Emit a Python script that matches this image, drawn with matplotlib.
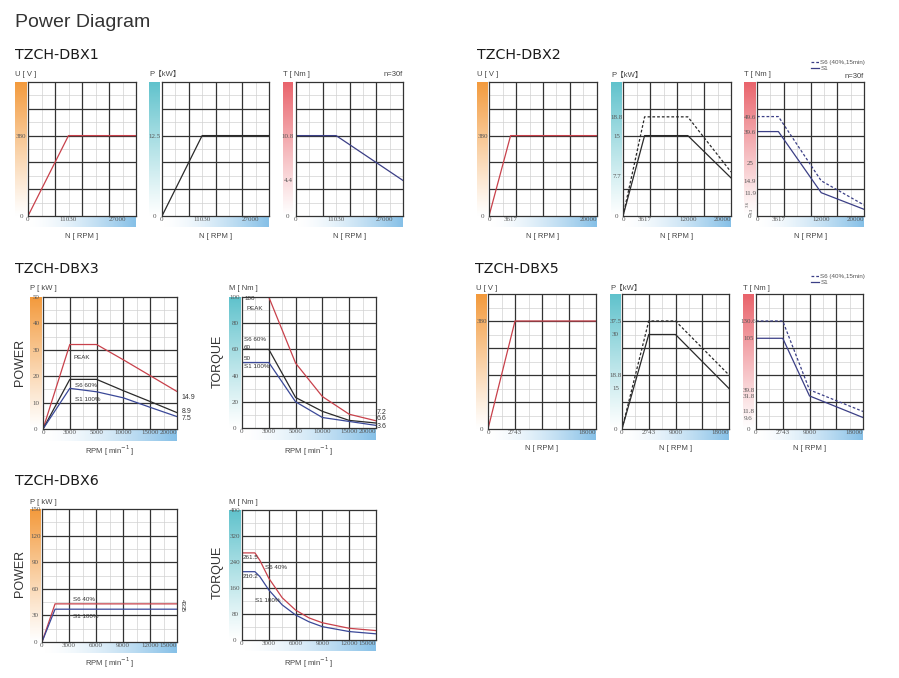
import numpy as np
import matplotlib
matplotlib.use("Agg")
import matplotlib.pyplot as plt
from matplotlib.colors import LinearSegmentedColormap

plt.rcParams['font.family'] = ['Liberation Sans', 'Noto Sans CJK SC', 'DejaVu Sans']

# ---------------- data ----------------
# DBX1
dbx1_rpm = [0, 11030, 33000]
dbx1_u = [0, 380, 380]
dbx1_p = [0, 12.5, 12.5]
dbx1_t = [10.8, 10.8, 4.4]
dbx1_xticks = [0, 11030, 27000]

# DBX2
dbx2_rpm = [0, 3617, 12000, 20000]
dbx2_u = [0, 380, 380, 380]
dbx2_p_s1 = [0, 15, 15, 7.3]
dbx2_p_s6 = [0, 18.8, 18.8, 8.4]
dbx2_t_s1 = [39.6, 39.6, 11.9, 3.3]
dbx2_t_s6 = [49.6, 49.6, 14.9, 3.6]

# DBX3
dbx3_rpm = [0, 3000, 5000, 10000, 15000, 20000]
dbx3_p_peak = [0, 32, 32, 26.2, 20.2, 14.2]
dbx3_p_s6 = [0, 18.8, 18.8, 14.5, 10.4, 6.2]
dbx3_p_s1 = [0, 15.4, 14.1, 11.8, 8.2, 4.7]
dbx3_t_peak = [100, 100, 49.5, 24, 10.5, 5.5]
dbx3_t_s6 = [60, 60, 23.3, 12.7, 5.8, 3.8]
dbx3_t_s1 = [50, 50, 20, 8, 5, 2]

# DBX5
dbx5_rpm = [0, 2743, 9000, 18000]
dbx5_u = [0, 380, 380, 380]
dbx5_p_s1 = [0, 30, 30, 15]
dbx5_p_s6 = [0, 37.5, 37.5, 18.8]
dbx5_t_s1 = [105, 105, 31.8, 9.6]
dbx5_t_s6 = [130.6, 130.6, 39.8, 11.8]

# DBX6
dbx6_p_rpm = [0, 1450, 15000]
dbx6_p_s6 = [0, 43, 43]
dbx6_p_s1 = [0, 37, 37]
dbx6_t_rpm = [0, 1450, 2000, 3000, 4500, 6000, 7500, 9000, 12000, 15000]
dbx6_t_s6 = [268, 268, 245, 190, 130, 92, 68, 53, 36, 29]
dbx6_t_s1 = [210.2, 210.2, 195, 154, 108, 77, 56, 41, 26, 19]

# ---------------- style ----------------
ORANGE = '#f39a3c'
TEAL = '#5fc2cc'
PINK = '#e9636b'
XBLUE = '#86c0e7'
G_MAJ = '#333333'
G_MIN = '#d2d2d2'
C_RED = '#c8414b'
C_BLK = '#2a2a2a'
C_NAVY = '#3b3f86'
C_BLUE = '#3a4898'
DASH = (0, (2.2, 1.6))
TICK_FS = 5

W, H = 899, 678
fig = plt.figure(figsize=(W / 100, H / 100), dpi=100)


def px_box(l, t, r, b):
    return [l / W, 1 - b / H, (r - l) / W, (b - t) / H]


def interp_fn(xp, fp):
    xp = np.asarray(xp, float)
    fp = np.asarray(fp, float)
    lo = (fp[1] - fp[0]) / (xp[1] - xp[0])
    hi = (fp[-1] - fp[-2]) / (xp[-1] - xp[-2])

    def f(v):
        v = np.asarray(v, float)
        out = np.interp(v, xp, fp)
        out = np.where(v < xp[0], fp[0] + (v - xp[0]) * lo, out)
        out = np.where(v > xp[-1], fp[-1] + (v - xp[-1]) * hi, out)
        return out
    return f


def fade(c):
    return LinearSegmentedColormap.from_list('', ['white', c])


def panel(box, bar_color, xmap, ymap, xticks, yticks, ncols, nrows):
    l, t, r, b, bl, br, xb = box
    bax = fig.add_axes(px_box(bl, t, br, b))
    bax.imshow(np.linspace(1, 0, 256)[:, None] ** 1.1, aspect='auto', cmap=fade(bar_color), vmin=0, vmax=1)
    bax.axis('off')
    xax = fig.add_axes(px_box(l, b, r, xb))
    xax.imshow(np.linspace(0, 1, 256)[None, :] ** 1.5, aspect='auto', cmap=fade(XBLUE), vmin=0, vmax=1)
    xax.axis('off')

    ax = fig.add_axes(px_box(l, t, r, b))
    ax.set_xscale('function', functions=(interp_fn(*xmap), interp_fn(xmap[1], xmap[0])))
    ax.set_yscale('function', functions=(interp_fn(*ymap), interp_fn(ymap[1], ymap[0])))
    ax.set_xlim(xmap[0][0], xmap[0][-1])
    ax.set_ylim(ymap[0][0], ymap[0][-1])

    minx = (np.arange(ncols) + 0.5) / ncols
    miny = (np.arange(nrows) + 0.5) / nrows
    ax.vlines(minx, 0, 1, transform=ax.transAxes, colors=G_MIN, lw=0.5, zorder=0.5)
    ax.hlines(miny, 0, 1, transform=ax.transAxes, colors=G_MIN, lw=0.5, zorder=0.5)
    ax.vlines(np.arange(1, ncols) / ncols, 0, 1, transform=ax.transAxes, colors=G_MAJ, lw=0.9, zorder=1)
    ax.hlines(np.arange(1, nrows) / nrows, 0, 1, transform=ax.transAxes, colors=G_MAJ, lw=0.9, zorder=1)
    for s in ax.spines.values():
        s.set_color(G_MAJ)
        s.set_linewidth(0.9)

    ax.set_xticks(xticks)
    ax.set_xticklabels([f'{v:g}' for v in xticks])
    ax.set_yticks(yticks)
    ax.set_yticklabels([f'{v:g}' for v in yticks])
    ypad = (l - (bl + br) / 2) * 0.72
    ax.tick_params(axis='y', length=0, pad=ypad, labelsize=TICK_FS, labelcolor='#555')
    ax.tick_params(axis='x', length=0, pad=1.0, labelsize=TICK_FS, labelcolor='#555')
    for lb in ax.get_yticklabels():
        lb.set_ha('center')
        lb.set_fontfamily('Liberation Serif')
    xl = ax.get_xticklabels()
    for lb in xl:
        lb.set_fontfamily('Liberation Serif')
    if xticks[-1] == xmap[0][-1]:
        xl[-1].set_ha('right')
    return ax


def ftext(x, y, s, **kw):
    kw.setdefault('fontsize', 5.5)
    kw.setdefault('color', '#444')
    kw.setdefault('va', 'center')
    fig.text(x / W, 1 - y / H, s, **kw)


def atext(ax, fx, fy, s, **kw):
    kw.setdefault('fontsize', 4.5)
    kw.setdefault('color', '#333')
    kw.setdefault('va', 'center')
    ax.text(fx, fy, s, transform=ax.transAxes, clip_on=False, **kw)


# ---------------- titles ----------------
ftext(15, 27, 'Power Diagram', fontsize=14, color='#333', va='baseline')
for name, x, y in [('TZCH-DBX1', 15, 59), ('TZCH-DBX2', 477, 59), ('TZCH-DBX3', 15, 273),
                   ('TZCH-DBX5', 475, 273), ('TZCH-DBX6', 15, 485)]:
    ftext(x, y, name, fontsize=10.3, family='DejaVu Sans', color='#1a1a1a', va='baseline')

# ---------------- DBX1 ----------------
x1 = ([0, 11030, 27000, 33000], [0, 0.375, 0.83, 1])
b = (28, 82, 136, 216, 15, 27, 227)
ax = panel(b, ORANGE, x1, ([0, 633.3], [0, 1]), dbx1_xticks, [0, 380], 4, 5)
ax.plot(dbx1_rpm, dbx1_u, color=C_RED, lw=0.9)
b = (162, 82, 269, 216, 149, 160, 227)
ax = panel(b, TEAL, x1, ([0, 20.83], [0, 1]), dbx1_xticks, [0, 12.5], 4, 5)
ax.plot(dbx1_rpm, dbx1_p, color=C_BLK, lw=0.9)
b = (296, 82, 403, 216, 283, 293, 227)
ax = panel(b, PINK, x1, ([0, 4.4, 10.8, 18], [0, 0.265, 0.6, 1]), dbx1_xticks, [0, 4.4, 10.8], 4, 5)
ax.plot(dbx1_rpm, dbx1_t, color=C_NAVY, lw=0.9)
for x, s in [(15, 'U [ V ]'), (149, 'P【kW】'), (283, 'T [ Nm ]')]:
    ftext(x, 74, s)
for c in [82, 215.5, 349.5]:
    ftext(c, 236, 'N [ RPM ]', ha='center')
ftext(403, 74, 'n=30f', ha='right')

# ---------------- DBX2 ----------------
x2 = ([0, 3617, 12000, 20000], [0, 0.2, 0.6, 1])
b = (489, 82, 597, 216, 477, 488, 227)
ax = panel(b, ORANGE, x2, ([0, 633.3], [0, 1]), [0, 3617, 20000], [0, 380], 4, 5)
ax.plot(dbx2_rpm, dbx2_u, color=C_RED, lw=0.9)
b = (623, 82, 731, 216, 611, 622, 227)
ax = panel(b, TEAL, x2, ([0, 7.7, 15, 18.8, 25], [0, 0.30, 0.6, 0.74, 1]),
           [0, 3617, 12000, 20000], [0, 7.7, 15, 18.8], 4, 5)
ax.plot(dbx2_rpm, dbx2_p_s6, color=C_BLK, lw=0.9, ls=DASH)
ax.plot(dbx2_rpm, dbx2_p_s1, color=C_BLK, lw=0.9)
b = (757, 82, 864, 216, 744, 756, 227)
ax = panel(b, PINK, x2, ([0, 3.3, 3.6, 11.9, 14.9, 25, 39.6, 49.6, 71],
                         [0, 0.05, 0.082, 0.174, 0.263, 0.397, 0.63, 0.742, 1]),
           [0, 3617, 12000, 20000], [0, 11.9, 14.9, 25, 39.6, 49.6], 4, 5)
h6, = ax.plot(dbx2_rpm, dbx2_t_s6, color=C_NAVY, lw=0.9, ls=DASH)
h1, = ax.plot(dbx2_rpm, dbx2_t_s1, color=C_NAVY, lw=0.9)
ftext(748, 204, '3.6', fontsize=3.5, rotation=90, ha='center', family='Liberation Serif', color='#555')
ftext(752, 211, '3.3', fontsize=3.5, rotation=90, ha='center', family='Liberation Serif', color='#555')
fig.legend([h6, h1], ['S6 (40%,15min)', 'S1'], loc='upper left', bbox_to_anchor=(811 / W, 1 - 60 / H),
           frameon=False, fontsize=4.5, handlelength=1.3, handletextpad=0.2, labelspacing=0.05,
           borderpad=0, borderaxespad=0, labelcolor='#555')
for x, s in [(477, 'U [ V ]'), (611, 'P【kW】'), (744, 'T [ Nm ]')]:
    ftext(x, 75, s)
for c in [543, 677, 810.5]:
    ftext(c, 236, 'N [ RPM ]', ha='center')
ftext(864, 76, 'n=30f', ha='right')

# ---------------- DBX3 ----------------
x3 = (dbx3_rpm, [0, 0.2, 0.4, 0.6, 0.8, 1])
b = (43, 297, 177, 429, 30, 42, 441)
ax = panel(b, ORANGE, x3, ([0, 50], [0, 1]), dbx3_rpm, [0, 10, 20, 30, 40, 50], 5, 5)
ax.plot(dbx3_rpm, dbx3_p_peak, color=C_RED, lw=0.9)
ax.plot(dbx3_rpm, dbx3_p_s6, color=C_BLK, lw=0.9)
ax.plot(dbx3_rpm, dbx3_p_s1, color=C_BLUE, lw=0.9)
atext(ax, 0.224, 0.545, 'PEAK')
atext(ax, 0.239, 0.333, 'S6 60%')
atext(ax, 0.239, 0.227, 'S1 100%')
atext(ax, 1.037, 0.235, '14.9', fontsize=5)
atext(ax, 1.037, 0.136, '8.9', fontsize=5)
atext(ax, 1.037, 0.083, '7.5', fontsize=5)

b = (242, 297, 376, 428, 229, 241, 440)
ax = panel(b, TEAL, x3, ([0, 100], [0, 1]), dbx3_rpm, [0, 20, 40, 60, 80, 100], 5, 5)
ax.plot(dbx3_rpm, dbx3_t_peak, color=C_RED, lw=0.9)
ax.plot(dbx3_rpm, dbx3_t_s6, color=C_BLK, lw=0.9)
ax.plot(dbx3_rpm, dbx3_t_s1, color=C_BLUE, lw=0.9)
atext(ax, 0.015, 0.985, '100')
atext(ax, 0.03, 0.916, 'PEAK')
atext(ax, 0.015, 0.679, 'S6 60%')
atext(ax, 0.015, 0.618, '60')
atext(ax, 0.015, 0.527, '50')
atext(ax, 0.015, 0.473, 'S1 100%')
atext(ax, 1.007, 0.122, '7.2', fontsize=5)
atext(ax, 1.007, 0.069, '6.6', fontsize=5)
atext(ax, 1.007, 0.008, '3.6', fontsize=5)
ftext(30, 288, 'P [ kW ]')
ftext(229, 288, 'M [ Nm ]')
ftext(110, 451, 'RPM [ min$^{-1}$ ]', ha='center')
ftext(309, 451, 'RPM [ min$^{-1}$ ]', ha='center')
ftext(20, 362, 'POWER', fontsize=9, rotation=90, ha='center', color='#333')
ftext(218, 361, 'TORQUE', fontsize=9, rotation=90, ha='center', color='#333')

# ---------------- DBX5 ----------------
x5 = ([0, 2743, 9000, 18000], [0, 0.25, 0.5, 1])
b = (488, 294, 596, 429, 476, 487, 440)
ax = panel(b, ORANGE, x5, ([0, 475], [0, 1]), [0, 2743, 18000], [0, 380], 4, 5)
ax.plot(dbx5_rpm, dbx5_u, color=C_RED, lw=0.9)
b = (622, 294, 729, 429, 610, 621, 440)
ax = panel(b, TEAL, x5, ([0, 15, 18.8, 30, 37.5, 52.5], [0, 0.30, 0.40, 0.70, 0.80, 1]),
           [0, 2743, 9000, 18000], [0, 15, 18.8, 30, 37.5], 4, 5)
ax.plot(dbx5_rpm, dbx5_p_s6, color=C_BLK, lw=0.9, ls=DASH)
ax.plot(dbx5_rpm, dbx5_p_s1, color=C_BLK, lw=0.9)
b = (756, 294, 863, 429, 743, 754, 440)
ax = panel(b, PINK, x5, ([0, 9.6, 11.8, 31.8, 39.8, 105, 130.6, 170],
                         [0, 0.085, 0.13, 0.245, 0.29, 0.672, 0.8, 1]),
           [0, 2743, 9000, 18000], [0, 9.6, 11.8, 31.8, 39.8, 105, 130.6], 4, 5)
h6, = ax.plot(dbx5_rpm, dbx5_t_s6, color=C_NAVY, lw=0.9, ls=DASH)
h1, = ax.plot(dbx5_rpm, dbx5_t_s1, color=C_NAVY, lw=0.9)
fig.legend([h6, h1], ['S6 (40%,15min)', 'S1'], loc='upper left', bbox_to_anchor=(811 / W, 1 - 274 / H),
           frameon=False, fontsize=4.5, handlelength=1.3, handletextpad=0.2, labelspacing=0.05,
           borderpad=0, borderaxespad=0, labelcolor='#555')
for x, s in [(476, 'U [ V ]'), (610, 'P【kW】'), (743, 'T [ Nm ]')]:
    ftext(x, 288, s)
for c in [542, 675.5, 809.5]:
    ftext(c, 449, 'N [ RPM ]', ha='center')

# ---------------- DBX6 ----------------
x6 = ([0, 15000], [0, 1])
b = (42, 509, 177, 642, 30, 41, 653)
ax = panel(b, ORANGE, x6, ([0, 150], [0, 1]), [0, 3000, 6000, 9000, 12000, 15000],
           [0, 30, 60, 90, 120, 150], 5, 5)
ax.plot(dbx6_p_rpm, dbx6_p_s6, color=C_RED, lw=0.9)
ax.plot(dbx6_p_rpm, dbx6_p_s1, color=C_BLUE, lw=0.9)
atext(ax, 0.23, 0.316, 'S6 40%')
atext(ax, 0.23, 0.195, 'S1 100%')
atext(ax, 1.04, 0.30, '43', rotation=270, ha='center', fontsize=4.5)
atext(ax, 1.04, 0.255, '35', rotation=270, ha='center', fontsize=4.5)

b = (242, 510, 376, 640, 229, 241, 651)
ax = panel(b, TEAL, x6, ([0, 400], [0, 1]), [0, 3000, 6000, 9000, 12000, 15000],
           [0, 80, 160, 240, 320, 400], 5, 5)
ax.plot(dbx6_t_rpm, dbx6_t_s6, color=C_RED, lw=0.9)
ax.plot(dbx6_t_rpm, dbx6_t_s1, color=C_BLUE, lw=0.9)
atext(ax, 0.007, 0.638, '261.5')
atext(ax, 0.17, 0.56, 'S6 40%')
atext(ax, 0.007, 0.49, '210.2')
atext(ax, 0.097, 0.30, 'S1 100%')
ftext(30, 502, 'P [ kW ]')
ftext(229, 502, 'M [ Nm ]')
ftext(110, 663, 'RPM [ min$^{-1}$ ]', ha='center')
ftext(309, 663, 'RPM [ min$^{-1}$ ]', ha='center')
ftext(20, 573, 'POWER', fontsize=9, rotation=90, ha='center', color='#333')
ftext(218, 572, 'TORQUE', fontsize=9, rotation=90, ha='center', color='#333')

fig.savefig('out.png', dpi=100, facecolor='white')
